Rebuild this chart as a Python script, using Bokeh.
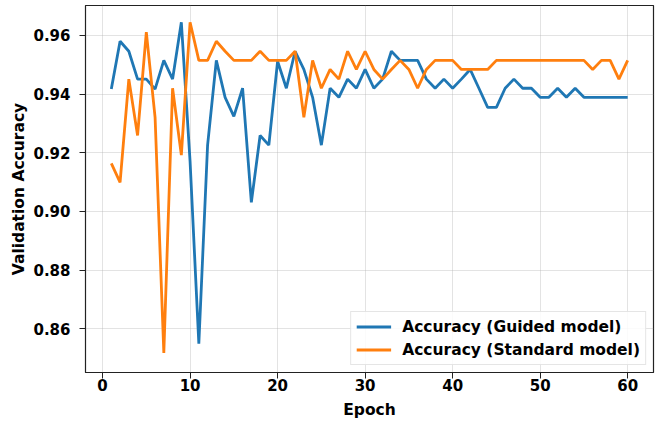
from bokeh.plotting import figure
from bokeh.models import Range1d, FixedTicker, NumeralTickFormatter, Legend, LegendItem
from bokeh.embed import file_html
from bokeh.resources import INLINE

epochs = list(range(1, 61))
guided = [0.9417, 0.958, 0.9546, 0.9451, 0.9451, 0.9417, 0.9515, 0.9451, 0.9645, 0.917,
          0.8549, 0.9226, 0.9515, 0.9389, 0.9324, 0.942, 0.9031, 0.9259, 0.9226, 0.9512,
          0.942, 0.9546, 0.9484, 0.9389, 0.9226, 0.942, 0.9389, 0.9451, 0.942, 0.9484,
          0.942, 0.9451, 0.9546, 0.9515, 0.9515, 0.9515, 0.9451, 0.942, 0.9451, 0.942,
          0.9451, 0.9484, 0.942, 0.9355, 0.9355, 0.942, 0.9451, 0.942, 0.942, 0.9389,
          0.9389, 0.942, 0.9389, 0.942, 0.9389, 0.9389, 0.9389, 0.9389, 0.9389, 0.9389]
standard = [0.9164, 0.9099, 0.9451, 0.9259, 0.9611, 0.9321, 0.8518, 0.942, 0.9192, 0.9645,
            0.9515, 0.9515, 0.958, 0.9546, 0.9515, 0.9515, 0.9515, 0.9546, 0.9515, 0.9515,
            0.9515, 0.9546, 0.9321, 0.9515, 0.942, 0.9484, 0.9451, 0.9546, 0.9484, 0.9546,
            0.9484, 0.9451, 0.9484, 0.9515, 0.9484, 0.942, 0.9484, 0.9515, 0.9515, 0.9515,
            0.9484, 0.9484, 0.9484, 0.9484, 0.9515, 0.9515, 0.9515, 0.9515, 0.9515, 0.9515,
            0.9515, 0.9515, 0.9515, 0.9515, 0.9515, 0.9484, 0.9515, 0.9515, 0.9451, 0.9515]
x_ticks = [0, 10, 20, 30, 40, 50, 60]
y_ticks = [0.86, 0.88, 0.90, 0.92, 0.94, 0.96]
labels = ["Accuracy (Guided model)", "Accuracy (Standard model)"]
colors = ["#1f77b4", "#ff7f0e"]

FONT = "DejaVu Sans"

p = figure(width=660, height=421, output_backend="svg", toolbar_location=None,
           x_range=Range1d(-1.95, 62.95), y_range=Range1d(0.8451, 0.9702),
           min_border_left=85, min_border_right=7, min_border_top=5, min_border_bottom=0)

r1 = p.line(epochs, guided, line_color=colors[0], line_width=2.8)
r2 = p.line(epochs, standard, line_color=colors[1], line_width=2.8)

p.outline_line_color = "#222222"
p.outline_line_width = 1.2
p.background_fill_color = "white"
p.border_fill_color = "white"

for ax in (p.xaxis[0], p.yaxis[0]):
    ax.major_label_text_font = FONT
    ax.major_label_text_font_style = "bold"
    ax.major_label_text_font_size = "15px"
    ax.major_label_text_color = "black"
    ax.axis_label_text_font = FONT
    ax.axis_label_text_font_style = "bold"
    ax.axis_label_text_font_size = "15.5px"
    ax.axis_label_text_color = "black"
    ax.major_tick_in = 0
    ax.major_tick_out = 6
    ax.minor_tick_in = 0
    ax.minor_tick_out = 0
    ax.axis_line_color = "#222222"
    ax.major_tick_line_color = "#222222"

p.xaxis.axis_label = "Epoch"
p.yaxis.axis_label = "Validation Accuracy"
p.xaxis.major_label_standoff = 0
p.xaxis.axis_label_standoff = 7
p.yaxis.major_label_standoff = 9
p.yaxis.axis_label_standoff = 2
p.xaxis.ticker = FixedTicker(ticks=x_ticks)
p.yaxis.ticker = FixedTicker(ticks=y_ticks)
p.yaxis.formatter = NumeralTickFormatter(format="0.00")

p.xgrid.ticker = FixedTicker(ticks=x_ticks)
p.ygrid.ticker = FixedTicker(ticks=y_ticks)
p.grid.grid_line_color = "#b0b0b0"
p.grid.grid_line_alpha = 0.35
p.grid.grid_line_width = 1

legend = Legend(items=[LegendItem(label=labels[0], renderers=[r1]),
                       LegendItem(label=labels[1], renderers=[r2])],
                location="bottom_right")
legend.label_text_font = FONT
legend.label_text_font_style = "bold"
legend.label_text_font_size = "15.5px"
legend.label_text_color = "black"
legend.label_height = 19
legend.glyph_height = 19
legend.glyph_width = 35
legend.label_standoff = 11
legend.spacing = 4
legend.padding = 5
legend.margin = 7
legend.border_line_color = "#cccccc"
legend.border_line_width = 1
legend.background_fill_alpha = 0.85
p.add_layout(legend)

open("out.html", "w").write(file_html(p, INLINE))
